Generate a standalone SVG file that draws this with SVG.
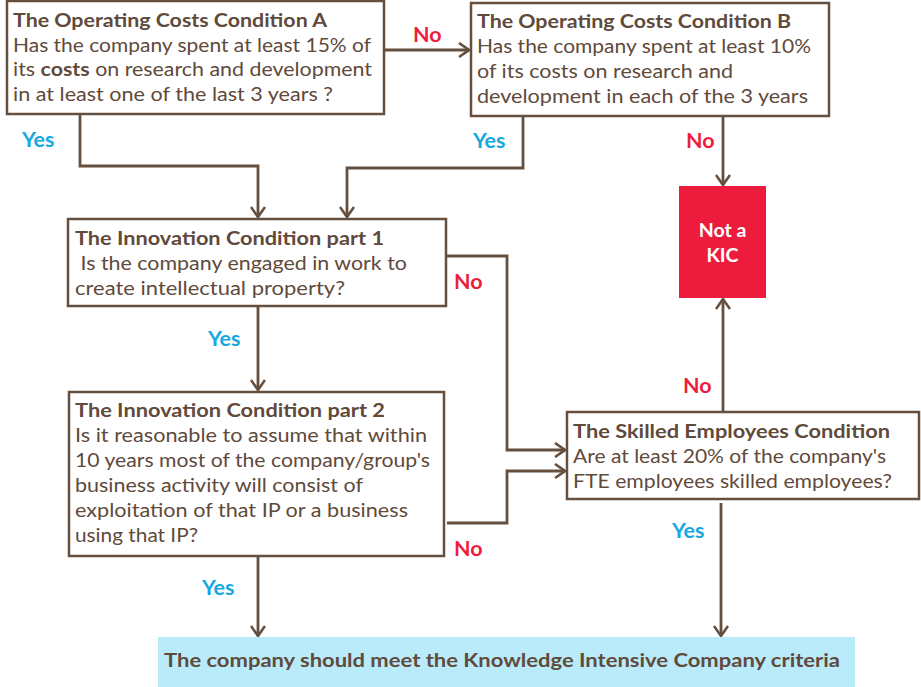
<svg xmlns="http://www.w3.org/2000/svg" width="921" height="687" viewBox="0 0 921 687">
<defs>
<marker id="arr" viewBox="0 0 12 16" refX="11" refY="8" markerWidth="12" markerHeight="16" markerUnits="userSpaceOnUse" orient="auto">
<path d="M1,1 L11,8 L1,15" fill="none" stroke="#654f3f" stroke-width="2.6"/>
</marker>
<style>
.box{fill:#fff;stroke:#654f3f;stroke-width:2.5}
.t{font-family:Lato,"Open Sans",sans-serif;font-size:19.5px;fill:#5f4a3b}
.b{font-weight:bold}
.con{fill:none;stroke:#654f3f;stroke-width:2.8}
.yes{font-family:Lato,"Open Sans",sans-serif;font-size:21.5px;font-weight:bold;fill:#17a8e1}
.no{font-family:Lato,"Open Sans",sans-serif;font-size:21.5px;font-weight:bold;fill:#ee1c3c}
</style>
</defs>
<rect width="921" height="687" fill="#fff"/>
<g id="connectors">
<path class="con" d="M384,50 H469" marker-end="url(#arr)"/>
<path class="con" d="M80,114 V166 H258 V217" marker-end="url(#arr)"/>
<path class="con" d="M523,116 V168 H347 V217" marker-end="url(#arr)"/>
<path class="con" d="M723,116 V185" marker-end="url(#arr)"/>
<path class="con" d="M258,306 V390" marker-end="url(#arr)"/>
<path class="con" d="M446,256 H507 V450 H565" marker-end="url(#arr)"/>
<path class="con" d="M447,523 H507 V471 H565" marker-end="url(#arr)"/>
<path class="con" d="M723,411 V299" marker-end="url(#arr)"/>
<path class="con" d="M258,556 V636" marker-end="url(#arr)"/>
<path class="con" d="M721,503 V636" marker-end="url(#arr)"/>
<text class="no" x="413" y="42">No</text>
<text class="yes" x="22" y="147">Yes</text>
<text class="yes" x="473" y="148">Yes</text>
<text class="no" x="686" y="148">No</text>
<text class="no" x="454" y="289">No</text>
<text class="yes" x="208" y="346">Yes</text>
<text class="no" x="683" y="393">No</text>
<text class="yes" x="672" y="538">Yes</text>
<text class="no" x="454" y="556">No</text>
<text class="yes" x="202" y="595">Yes</text>
</g>
<g id="condA">
<rect class="box" x="7" y="1" width="377" height="113"/>
<text class="t b" x="13" y="27" textLength="314" lengthAdjust="spacingAndGlyphs">The Operating Costs Condition A</text>
<text class="t" x="13" y="52" textLength="358" lengthAdjust="spacingAndGlyphs">Has the company spent at least 15% of</text>
<text class="t" x="13" y="76" textLength="359" lengthAdjust="spacingAndGlyphs">its <tspan class="b">costs</tspan> on research and development</text>
<text class="t" x="13" y="101" textLength="320" lengthAdjust="spacingAndGlyphs">in at least one of the last 3 years ?</text>
</g>
<g id="condB">
<rect class="box" x="471" y="3" width="358" height="113"/>
<text class="t b" x="477" y="28" textLength="314" lengthAdjust="spacingAndGlyphs">The Operating Costs Condition B</text>
<text class="t" x="477" y="53" textLength="334" lengthAdjust="spacingAndGlyphs">Has the company spent at least 10%</text>
<text class="t" x="477" y="78" textLength="256" lengthAdjust="spacingAndGlyphs">of its costs on research and</text>
<text class="t" x="477" y="103" textLength="331" lengthAdjust="spacingAndGlyphs">development in each of the 3 years</text>
</g>
<g id="notKIC">
<rect x="679" y="186" width="87" height="112" fill="#ee1c3c"/>
<text class="t b" x="722.5" y="237" text-anchor="middle" style="fill:#fff">Not a</text>
<text class="t b" x="722.5" y="262" text-anchor="middle" style="fill:#fff">KIC</text>
</g>
<g id="innov1">
<rect class="box" x="68" y="219" width="378" height="87"/>
<text class="t b" x="75" y="245" textLength="309" lengthAdjust="spacingAndGlyphs">The Innovation Condition part 1</text>
<text class="t" x="75" y="270" xml:space="preserve" textLength="332" lengthAdjust="spacingAndGlyphs"> Is the company engaged in work to</text>
<text class="t" x="75" y="295" textLength="270" lengthAdjust="spacingAndGlyphs">create intellectual property?</text>
</g>
<g id="innov2">
<rect class="box" x="69" y="392" width="375" height="164"/>
<text class="t b" x="75" y="417" textLength="310" lengthAdjust="spacingAndGlyphs">The Innovation Condition part 2</text>
<text class="t" x="75" y="442" textLength="352" lengthAdjust="spacingAndGlyphs">Is it reasonable to assume that within</text>
<text class="t" x="75" y="467" textLength="355" lengthAdjust="spacingAndGlyphs">10 years most of the company/group's</text>
<text class="t" x="75" y="492" textLength="288" lengthAdjust="spacingAndGlyphs">business activity will consist of</text>
<text class="t" x="75" y="517" textLength="333" lengthAdjust="spacingAndGlyphs">exploitation of that IP or a business</text>
<text class="t" x="75" y="542" textLength="123" lengthAdjust="spacingAndGlyphs">using that IP?</text>
</g>
<g id="skilled">
<rect class="box" x="567" y="412" width="352" height="87"/>
<text class="t b" x="573" y="438" textLength="317" lengthAdjust="spacingAndGlyphs">The Skilled Employees Condition</text>
<text class="t" x="573" y="463" textLength="313" lengthAdjust="spacingAndGlyphs">Are at least 20% of the company's</text>
<text class="t" x="573" y="487.5" textLength="319" lengthAdjust="spacingAndGlyphs">FTE employees skilled employees?</text>
</g>
<g id="result">
<rect x="158" y="637" width="697" height="50" fill="#b9ebfb"/>
<text class="t b" x="164" y="667" textLength="676" lengthAdjust="spacingAndGlyphs">The company should meet the Knowledge Intensive Company criteria</text>
</g>
</svg>
